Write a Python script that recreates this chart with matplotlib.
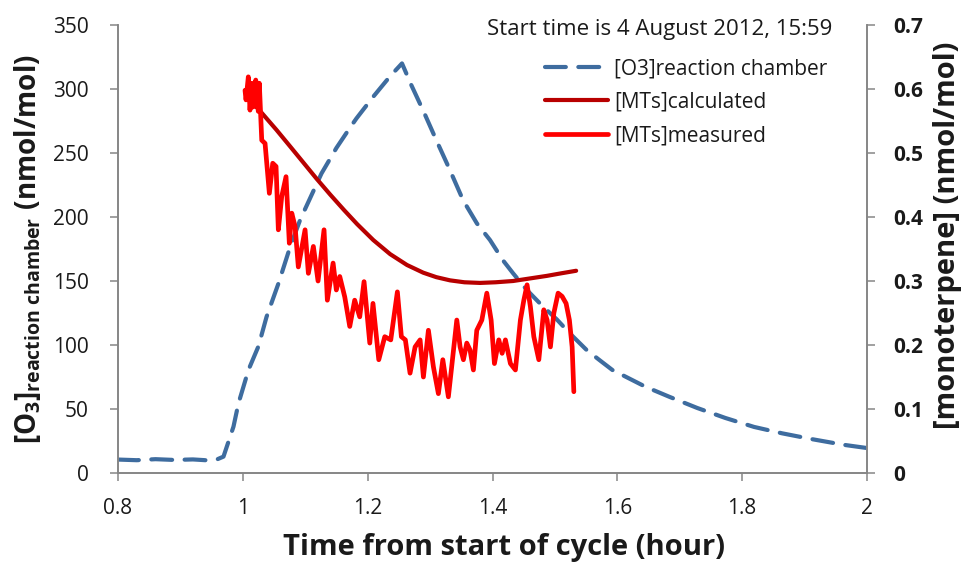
import matplotlib
matplotlib.use("Agg")
import matplotlib.pyplot as plt

plt.rcParams['font.family'] = ['Open Sans', 'DejaVu Sans']
plt.rcParams['mathtext.fontset'] = 'custom'
plt.rcParams['mathtext.rm'] = 'Open Sans'
plt.rcParams['mathtext.bf'] = 'Open Sans:bold'
plt.rcParams['mathtext.it'] = 'Open Sans:italic'

# Ozone in the reaction chamber (nmol/mol), left axis
o3_hour = [0.800, 0.830, 0.860, 0.890, 0.920, 0.940, 0.958, 0.969, 0.985,
           0.993, 1.009, 1.025, 1.038, 1.057, 1.076, 1.092, 1.126, 1.150,
           1.172, 1.182, 1.209, 1.236, 1.255, 1.270, 1.290, 1.310, 1.330,
           1.353, 1.375, 1.396, 1.417, 1.433, 1.455, 1.481, 1.503, 1.524,
           1.551, 1.572, 1.592, 1.645, 1.683, 1.728, 1.773, 1.819, 1.864,
           1.910, 1.963, 2.000]
o3_value = [10.5, 10.0, 10.8, 10.2, 10.6, 10.0, 10.5, 12.8, 36.2,
            54.4, 80.5, 99.0, 122.0, 148.0, 177.0, 198.0, 234.0, 254.0,
            270.0, 277.0, 294.0, 310.0, 320.0, 303.0, 282.0, 260.0, 238.6,
            213.0, 195.0, 182.0, 166.0, 156.0, 143.0, 130.0, 120.0, 109.0,
            96.0, 88.0, 80.5, 67.4, 59.6, 50.8, 43.0, 36.0, 31.0,
            26.6, 22.0, 19.5]

# Calculated monoterpene mixing ratio (nmol/mol), right axis
calc_hour = [1.005, 1.030, 1.054, 1.076, 1.097, 1.118, 1.140, 1.162, 1.183,
             1.209, 1.236, 1.263, 1.289, 1.310, 1.332, 1.355, 1.380, 1.405,
             1.433, 1.460, 1.487, 1.510, 1.534]
calc_value = [0.590, 0.563, 0.536, 0.510, 0.485, 0.460, 0.435, 0.411, 0.389,
              0.364, 0.342, 0.325, 0.313, 0.306, 0.301, 0.298, 0.297, 0.298,
              0.300, 0.304, 0.308, 0.312, 0.316]

# Measured monoterpene mixing ratio (nmol/mol), right axis
meas_hour = [1.0035, 1.0051, 1.0088, 1.0115, 1.0143, 1.0168, 1.0207, 1.0248,
             1.0264, 1.0303, 1.0356, 1.0425, 1.0479, 1.0532, 1.0569, 1.0623,
             1.0692, 1.0745, 1.0784, 1.0837, 1.0889, 1.0997, 1.1050, 1.1130,
             1.1205, 1.1301, 1.1354, 1.1446, 1.1498, 1.1553, 1.1633, 1.1713,
             1.1792, 1.1873, 1.1942, 1.2034, 1.2085, 1.2178, 1.2274, 1.2370,
             1.2476, 1.2540, 1.2604, 1.2679, 1.2760, 1.2840, 1.2893, 1.2973,
             1.3053, 1.3133, 1.3204, 1.3293, 1.3346, 1.3428, 1.3481, 1.3534,
             1.3588, 1.3641, 1.3694, 1.3748, 1.3829, 1.3909, 1.3978, 1.4031,
             1.4101, 1.4154, 1.4207, 1.4287, 1.4367, 1.4447, 1.4502, 1.4554,
             1.4607, 1.4662, 1.4742, 1.4822, 1.4875, 1.4928, 1.4983, 1.5051,
             1.5115, 1.5179, 1.5232, 1.5276, 1.5303]
meas_value = [0.598, 0.583, 0.619, 0.567, 0.609, 0.572, 0.614, 0.565,
              0.609, 0.520, 0.515, 0.437, 0.484, 0.479, 0.380, 0.432,
              0.463, 0.359, 0.406, 0.385, 0.322, 0.380, 0.312, 0.354,
              0.300, 0.380, 0.270, 0.328, 0.286, 0.307, 0.275, 0.229,
              0.270, 0.244, 0.299, 0.203, 0.265, 0.177, 0.213, 0.208,
              0.283, 0.213, 0.208, 0.156, 0.197, 0.208, 0.150, 0.223,
              0.166, 0.124, 0.177, 0.119, 0.166, 0.239, 0.197, 0.177,
              0.203, 0.192, 0.161, 0.223, 0.239, 0.281, 0.239, 0.171,
              0.208, 0.187, 0.208, 0.171, 0.161, 0.239, 0.270, 0.294,
              0.260, 0.213, 0.177, 0.255, 0.239, 0.197, 0.250, 0.281,
              0.276, 0.265, 0.239, 0.197, 0.127]

x_ticks = [0.8, 1.0, 1.2, 1.4, 1.6, 1.8, 2.0]
x_tick_labels = ["0.8", "1", "1.2", "1.4", "1.6", "1.8", "2"]
left_ticks = [0, 50, 100, 150, 200, 250, 300, 350]
right_ticks = [0, 0.1, 0.2, 0.3, 0.4, 0.5, 0.6, 0.7]
right_tick_labels = ["0", "0.1", "0.2", "0.3", "0.4", "0.5", "0.6", "0.7"]

BLUE = "#3E6C9F"
DARK_RED = "#B80000"
RED = "#FF0000"
AXIS_GRAY = "#868686"
TEXT = "#1a1a1a"

W, H = 976, 566
fig = plt.figure(figsize=(W / 100, H / 100), dpi=100)
ax = fig.add_axes([118 / W, 1 - 473 / H, (867 - 118) / W, (473 - 25) / H])
ax2 = ax.twinx()

o3_line, = ax.plot(o3_hour, o3_value, color=BLUE, lw=3.0,
                   linestyle=(0, (5.0, 3.0)), dash_capstyle='round',
                   dash_joinstyle='round', zorder=2)
calc_line, = ax2.plot(calc_hour, calc_value, color=DARK_RED, lw=3.0,
                      solid_capstyle='round', zorder=3)
meas_line, = ax2.plot(meas_hour, meas_value, color=RED, lw=3.4,
                      solid_joinstyle='round', solid_capstyle='round', zorder=4)

ax.set_xlim(0.8, 2.0)
ax.set_ylim(0, 350)
ax2.set_ylim(0, 0.7)
ax.set_xticks(x_ticks)
ax.set_xticklabels(x_tick_labels)
ax.set_yticks(left_ticks)
ax2.set_yticks(right_ticks)
ax2.set_yticklabels(right_tick_labels, fontweight='bold')

for a in (ax, ax2):
    a.spines['top'].set_visible(False)
    for s in ('left', 'right', 'bottom'):
        a.spines[s].set_color(AXIS_GRAY)
        a.spines[s].set_linewidth(1.2)
    a.tick_params(direction='out', length=6, width=1.1, color=AXIS_GRAY,
                  labelsize=15, labelcolor=TEXT)
ax.tick_params(axis='y', pad=15)
ax.tick_params(axis='x', pad=12)
ax2.tick_params(axis='y', pad=13)

ax.set_xlabel("Time from start of cycle (hour)", fontsize=21,
              fontweight='bold', color=TEXT)
ax.xaxis.set_label_coords(0.515, -0.135)
ax.set_ylabel(r"$\mathbf{[O}_{\mathbf{3}}\mathbf{]}_{\mathbf{reaction\ chamber}}\mathbf{\ (nmol/mol)}$",
              fontsize=20, color=TEXT)
ax.yaxis.set_label_coords(-0.1, 0.5)
ax2.set_ylabel("[monoterpene] (nmol/mol)", fontsize=21, fontweight='bold',
               color=TEXT)
ax2.yaxis.set_label_coords(1.088, 0.53)

fig.text(832 / W, 1 - 30 / H, "Start time is 4 August 2012, 15:59",
         ha='right', va='center', fontsize=16, color=TEXT)

leg = ax2.legend([o3_line, calc_line, meas_line],
                 ["[O3]reaction chamber", "[MTs]calculated", "[MTs]measured"],
                 loc='upper left', bbox_to_anchor=(545 / W, 1 - 58 / H),
                 bbox_transform=fig.transFigure, frameon=False,
                 fontsize=15, handlelength=3.0, handletextpad=0.3,
                 labelspacing=0.6, borderaxespad=0, borderpad=0)
for t in leg.get_texts():
    t.set_color(TEXT)

fig.savefig("out.png", dpi=100, facecolor='white')
